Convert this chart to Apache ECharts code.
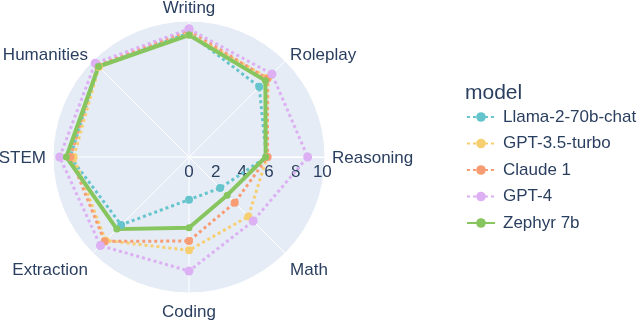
<!DOCTYPE html>
<html>
<head>
<meta charset="utf-8">
<script src="https://cdn.jsdelivr.net/npm/echarts@6/dist/echarts.min.js"></script>
<style>
  html, body { margin: 0; padding: 0; background: #fff; }
  #chart { width: 640px; height: 321px; }
</style>
</head>
<body>
<div id="chart"></div>
<script>
// categories, clockwise from the top
var categories = ["Writing", "Roleplay", "Reasoning", "Math", "Coding", "Extraction", "STEM", "Humanities"];
var radiusTicks = [0, 2, 4, 6, 8, 10];

var llama = [9.3, 7.45, 5.8, 3.3, 3.2, 7.2, 8.9, 9.6];
var gpt35 = [9.2, 8.4, 5.85, 6.3, 7.0, 8.85, 8.65, 9.55];
var claude = [9.5, 8.3, 5.9, 4.85, 6.3, 8.95, 8.9, 9.7];
var gpt4 = [9.6, 8.8, 8.9, 6.8, 8.55, 9.4, 9.7, 9.95];
var zephyr = [9.15, 8.1, 5.75, 4.05, 5.3, 7.65, 9.2, 9.6];

var textColor = "#2a3f5f";
var font = "'Liberation Sans', Arial, sans-serif";

// angle 0 = Reasoning (3 o'clock), clockwise
function angleOf(i) {
  return ((i - 2) * 45 + 360) % 360;
}

function toPolar(values) {
  var pts = values.map(function (v, i) { return [v, angleOf(i)]; });
  pts.push(pts[0]);
  return pts;
}

function makeSeries(name, values, color, dotted, width, size) {
  return {
    name: name,
    type: "line",
    coordinateSystem: "polar",
    data: toPolar(values),
    symbol: "circle",
    symbolSize: size,
    showSymbol: true,
    itemStyle: { color: color },
    lineStyle: { color: color, width: width, type: dotted ? [3, 3] : "solid" },
    animation: false
  };
}

// nudges so the angular labels sit where plotly put them
var labelRich = {
  top: { lineHeight: 11 },
  upper: { lineHeight: 2 },
  side: { padding: [2, 0, 0, 0] },
  lower: { padding: [4, 0, 0, 0] },
  bottom: { padding: [4, 0, 0, 0] }
};
var labelKind = ["top", "upper", "side", "lower", "bottom", "lower", "side", "upper"];

var chart = echarts.init(document.getElementById("chart"));
chart.setOption({
  backgroundColor: "#fff",
  textStyle: { fontFamily: font },
  title: {
    text: "model",
    left: 460,
    top: 78,
    textStyle: { color: textColor, fontSize: 21, fontWeight: "normal", fontFamily: font }
  },
  legend: {
    orient: "vertical",
    left: 466,
    top: 107,
    padding: 0,
    itemWidth: 28,
    itemHeight: 12,
    itemGap: 6.5,
    textStyle: { color: textColor, fontSize: 17, lineHeight: 20, fontFamily: font, padding: [0, 0, 0, 3] },
    data: ["Llama-2-70b-chat", "GPT-3.5-turbo", "Claude 1", "GPT-4", "Zephyr 7b"]
  },
  polar: {
    center: [189, 157],
    radius: 136
  },
  angleAxis: {
    type: "value",
    min: 0,
    max: 360,
    interval: 45,
    startAngle: 0,
    clockwise: true,
    axisLine: { show: true, lineStyle: { color: "#fff", width: 1 } },
    axisTick: { show: false },
    splitLine: { show: true, lineStyle: { color: "#fff", width: 1 } },
    axisLabel: {
      margin: 7,
      color: textColor,
      fontSize: 17,
      fontFamily: font,
      rich: labelRich,
      formatter: function (v) {
        if (v >= 360) return "";
        var idx = (Math.round(v / 45) + 2) % 8;
        return "{" + labelKind[idx] + "|" + categories[idx] + "}";
      }
    }
  },
  radiusAxis: {
    type: "value",
    min: 0,
    max: 10.2,
    interval: 2,
    axisLine: { show: true, lineStyle: { color: "#fff", width: 1 } },
    axisTick: { show: false },
    splitLine: { show: true, lineStyle: { color: "#fff", width: 1 } },
    splitArea: { show: true, areaStyle: { color: ["#E5ECF6"] } },
    axisLabel: {
      margin: -6.5,
      verticalAlign: "top",
      showMaxLabel: false,
      color: textColor,
      fontSize: 17,
      fontFamily: font,
      formatter: function (v) {
        return radiusTicks.indexOf(v) >= 0 ? String(v) : "";
      }
    }
  },
  series: [
    makeSeries("Llama-2-70b-chat", llama, "#66C5CC", true, 3, 8),
    makeSeries("GPT-3.5-turbo", gpt35, "#F6CF71", true, 3, 8),
    makeSeries("Claude 1", claude, "#F89C74", true, 3, 8),
    makeSeries("GPT-4", gpt4, "#DCB0F2", true, 3, 9),
    makeSeries("Zephyr 7b", zephyr, "#87C55F", false, 4, 7)
  ]
});
</script>
</body>
</html>
